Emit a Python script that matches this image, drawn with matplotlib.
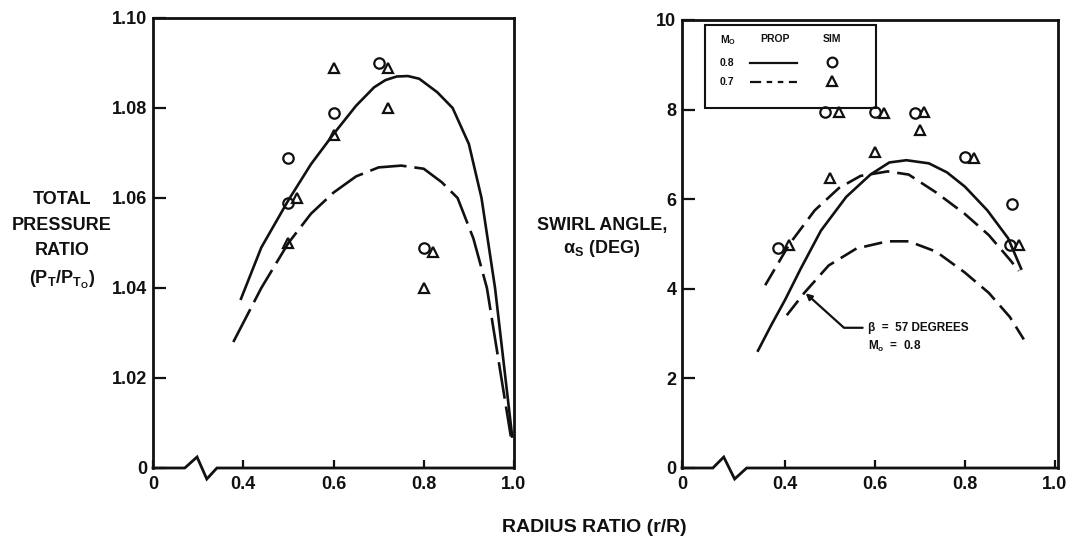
import matplotlib
matplotlib.use("Agg")
import matplotlib.pyplot as plt
from matplotlib.patches import Rectangle
from matplotlib.lines import Line2D

plt.rcParams["font.family"] = ["Liberation Sans", "DejaVu Sans"]
plt.rcParams["font.weight"] = "bold"
plt.rcParams["mathtext.fontset"] = "custom"
plt.rcParams["mathtext.rm"] = "Liberation Sans:bold"
plt.rcParams["mathtext.it"] = "Liberation Sans:bold"
plt.rcParams["mathtext.bf"] = "Liberation Sans:bold"
plt.rcParams["mathtext.default"] = "rm"

INK = "#111111"

# ---- left panel: total pressure ratio ----
pr_sim08_x = [0.50, 0.50, 0.60, 0.70, 0.80]
pr_sim08_y = [1.069, 1.059, 1.079, 1.090, 1.049]
pr_sim07_x = [0.50, 0.52, 0.60, 0.60, 0.72, 0.72, 0.80, 0.82]
pr_sim07_y = [1.050, 1.060, 1.074, 1.089, 1.089, 1.080, 1.040, 1.048]

pr_prop08_x = [0.395, 0.44, 0.50, 0.55, 0.60, 0.65, 0.69, 0.715, 0.74, 0.765,
               0.79, 0.83, 0.864, 0.90, 0.928, 0.958, 0.981, 0.996]
pr_prop08_y = [1.0376, 1.049, 1.0595, 1.0675, 1.0742, 1.0805, 1.0846, 1.0862,
               1.0870, 1.0871, 1.0865, 1.0835, 1.080, 1.072, 1.060, 1.040,
               1.020, 1.007]
pr_prop07_x = [0.378, 0.44, 0.50, 0.55, 0.60, 0.65, 0.70, 0.75, 0.80, 0.84,
               0.875, 0.91, 0.94, 0.972, 0.993]
pr_prop07_y = [1.028, 1.040, 1.050, 1.0565, 1.0612, 1.0648, 1.0668, 1.0672,
               1.0665, 1.0635, 1.060, 1.051, 1.040, 1.020, 1.007]

pr_yticks = [1.00, 1.02, 1.04, 1.06, 1.08, 1.10]
pr_ylabels = ["0", "1.02", "1.04", "1.06", "1.08", "1.10"]
pr_xticks = [0.2, 0.4, 0.6, 0.8, 1.0]

# ---- right panel: swirl angle ----
sw_sim08_x = [0.385, 0.49, 0.60, 0.69, 0.80, 0.905, 0.90]
sw_sim08_y = [4.9, 7.95, 7.95, 7.92, 6.95, 5.9, 4.97]
sw_sim07_x = [0.41, 0.52, 0.62, 0.71, 0.70, 0.60, 0.50, 0.82, 0.92]
sw_sim07_y = [4.97, 7.95, 7.93, 7.95, 7.55, 7.05, 6.47, 6.93, 4.97]

sw_prop08_x = [0.34, 0.37, 0.40, 0.435, 0.48, 0.536, 0.59, 0.632, 0.67, 0.72,
               0.76, 0.80, 0.85, 0.896, 0.925]
sw_prop08_y = [2.62, 3.2, 3.75, 4.45, 5.30, 6.05, 6.55, 6.82, 6.87, 6.80,
               6.6, 6.28, 5.75, 5.13, 4.45]
sw_prop07_x = [0.356, 0.41, 0.466, 0.52, 0.568, 0.628, 0.675, 0.736, 0.80,
               0.853, 0.90, 0.92]
sw_prop07_y = [4.08, 5.0, 5.75, 6.25, 6.52, 6.62, 6.55, 6.15, 5.67, 5.2,
               4.65, 4.4]
sw_beta57_x = [0.404, 0.443, 0.497, 0.559, 0.628, 0.675, 0.736, 0.799, 0.853,
               0.90, 0.931]
sw_beta57_y = [3.41, 3.91, 4.52, 4.90, 5.06, 5.06, 4.83, 4.37, 3.91, 3.37,
               2.87]

sw_yticks = [0, 2, 4, 6, 8, 10]
sw_ylabels = ["0", "2", "4", "6", "8", "10"]
sw_xticks = [0.171, 0.4, 0.6, 0.8, 1.0]
x_ticklabels = ["0", "0.4", "0.6", "0.8", "1.0"]

W, H = 1073, 541
fig = plt.figure(figsize=(W / 100, H / 100), dpi=100)
ax1 = fig.add_axes([153 / W, 1 - 468 / H, 361 / W, 450 / H])
ax2 = fig.add_axes([682 / W, 1 - 468 / H, 376 / W, 448 / H])

LW = 1.9
mk = dict(linestyle="none", markerfacecolor="none", markeredgecolor=INK,
          markeredgewidth=1.6)


def frame(ax, brk):
    for s in ["left", "right", "top"]:
        ax.spines[s].set_linewidth(2.0)
        ax.spines[s].set_color(INK)
    ax.spines["bottom"].set_visible(False)
    # axis break drawn into the bottom line
    ax.add_line(Line2D([0, brk[0], brk[1], brk[2], brk[3], 1],
                       [0, 0, 0.0245, -0.0245, 0, 0],
                       transform=ax.transAxes, color=INK, lw=2.0,
                       clip_on=False, solid_joinstyle="miter"))
    ax.tick_params(axis="y", direction="in", length=9, width=1.6,
                   labelsize=13, pad=4, colors=INK, right=False)
    ax.tick_params(axis="x", direction="in", length=6, width=1.6,
                   labelsize=13, pad=6, colors=INK, top=False)


# left panel
ax1.plot(pr_prop08_x, pr_prop08_y, color=INK, lw=LW)
ax1.plot(pr_prop07_x, pr_prop07_y, color=INK, lw=LW, dashes=(14, 3))
ax1.plot(pr_sim08_x, pr_sim08_y, marker="o", markersize=7.5, **mk)
ax1.plot(pr_sim07_x, pr_sim07_y, marker="^", markersize=7.5, **mk)
ax1.set_xlim(0.2, 1.0)
ax1.set_ylim(1.0, 1.1)
ax1.set_xticks(pr_xticks)
ax1.set_xticklabels(x_ticklabels)
ax1.set_yticks(pr_yticks)
ax1.set_yticklabels(pr_ylabels)
frame(ax1, [0.088, 0.122, 0.149, 0.177])

# right panel
ax2.plot(sw_prop08_x, sw_prop08_y, color=INK, lw=LW)
ax2.plot(sw_prop07_x, sw_prop07_y, color=INK, lw=LW, dashes=(7, 3))
ax2.plot(sw_beta57_x, sw_beta57_y, color=INK, lw=LW, dashes=(7, 3))
ax2.plot(sw_sim08_x, sw_sim08_y, marker="o", markersize=7.5, **mk)
ax2.plot(sw_sim07_x, sw_sim07_y, marker="^", markersize=7.5, **mk)
ax2.set_xlim(0.171, 1.007)
ax2.set_ylim(0, 10)
ax2.set_xticks(sw_xticks)
ax2.set_xticklabels(x_ticklabels)
ax2.set_yticks(sw_yticks)
ax2.set_yticklabels(sw_ylabels)
frame(ax2, [0.082, 0.111, 0.140, 0.172])

# annotation for the beta = 57 curve
ax2.annotate("β  =  57 DEGREES", xy=(0.446, 3.9), xytext=(0.585, 3.13),
             fontsize=8.5, ha="left", va="center", color=INK,
             arrowprops=dict(arrowstyle="-|>", color=INK, lw=1.6,
                             mutation_scale=9, shrinkA=2, shrinkB=0,
                             connectionstyle="angle,angleA=0,angleB=-42,rad=0"))
ax2.text(0.585, 2.72, "M$_o$  =  0.8", fontsize=8.5, ha="left", va="center",
         color=INK)

# hand-made legend table
ax2.add_patch(Rectangle((0.061, 0.804), 0.456, 0.185, transform=ax2.transAxes,
                        fill=False, lw=1.5, ec=INK, zorder=5))
tk = dict(transform=ax2.transAxes, fontsize=7.5, color=INK, va="center")
ax2.text(0.10, 0.955, "M$_O$", ha="left", **tk)
ax2.text(0.247, 0.958, "PROP", ha="center", **tk)
ax2.text(0.398, 0.958, "SIM", ha="center", **tk)
ax2.text(0.10, 0.904, "0.8", ha="left", **tk)
ax2.text(0.10, 0.862, "0.7", ha="left", **tk)
ax2.add_line(Line2D([0.18, 0.305], [0.904, 0.904], transform=ax2.transAxes,
                    color=INK, lw=1.6))
ax2.add_line(Line2D([0.18, 0.305], [0.862, 0.862], transform=ax2.transAxes,
                    color=INK, lw=1.6, dashes=(5, 2.5, 2.5, 2.5, 2.5, 2.5)))
ax2.plot([0.398], [0.906], transform=ax2.transAxes, marker="o",
         markersize=7, clip_on=False, **mk)
ax2.plot([0.398], [0.864], transform=ax2.transAxes, marker="^",
         markersize=6.5, clip_on=False, **mk)

# axis titles
fig.text(62 / W, 1 - 241 / H, "TOTAL\nPRESSURE\nRATIO\n(P$_T$/P$_{T_O}$)",
         ha="center", va="center", multialignment="center", fontsize=13,
         linespacing=1.65, color=INK)
fig.text(602 / W, 1 - 238 / H, "SWIRL ANGLE,\nα$_S$ (DEG)", ha="center",
         va="center", multialignment="center", fontsize=13, linespacing=1.3,
         color=INK)
fig.text(594 / W, 1 - 528 / H, "RADIUS RATIO (r/R)", ha="center",
         va="center", fontsize=14, color=INK)

fig.savefig("out.png", dpi=100)
